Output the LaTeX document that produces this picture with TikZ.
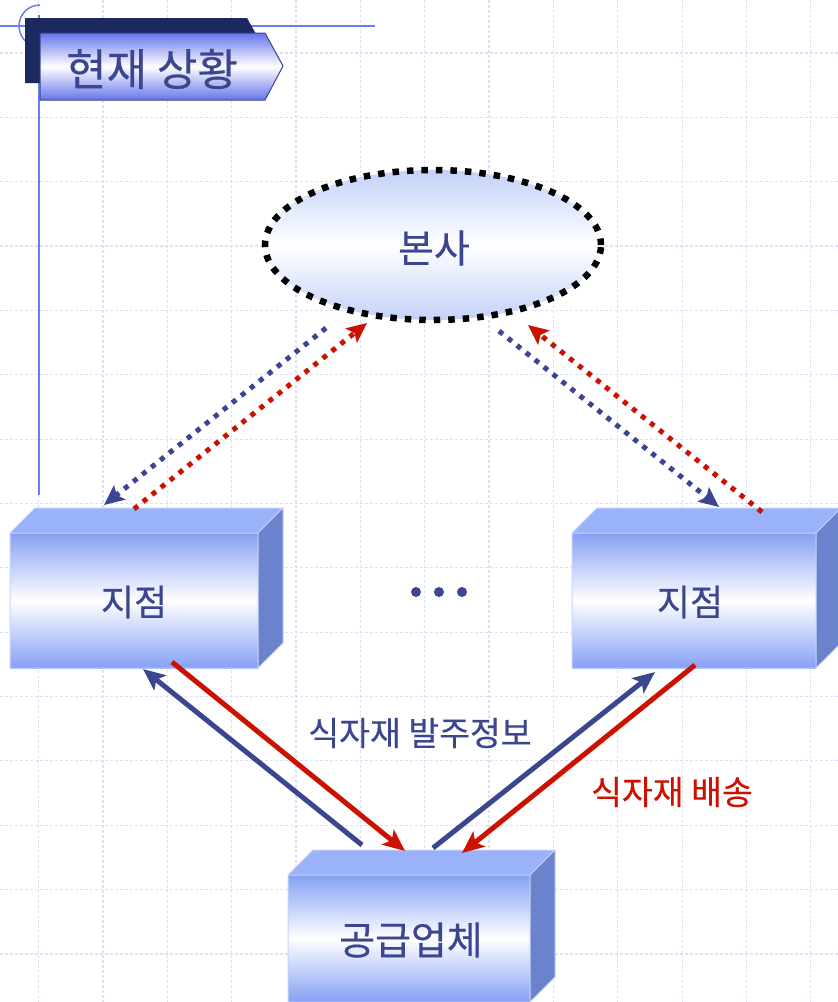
\documentclass[tikz,border=0pt]{standalone}
\usepackage{fontspec}
\setmainfont{Noto Sans CJK KR}[FakeBold=0.4]
\usetikzlibrary{arrows.meta,shapes.geometric}
\definecolor{navy}{HTML}{3C4690}
\definecolor{navydark}{HTML}{1C2860}
\definecolor{redc}{HTML}{CC1100}
\definecolor{accentc}{HTML}{6680F0}
\definecolor{gridc}{HTML}{DAE2FA}
\definecolor{boxtop}{HTML}{9AB2FA}
\definecolor{boxside}{HTML}{6B82CC}
\definecolor{boxfront}{HTML}{86A0F4}
\definecolor{boxedge}{HTML}{C5D3FB}
\definecolor{banner}{HTML}{6575EA}
\definecolor{ellc}{HTML}{C4D2F8}
\tikzset{
  gridline/.style={draw=gridc, line width=1.2pt, dash pattern=on 3pt off 2pt},
  accent/.style={draw=accentc, line width=1.5pt},
  lbl/.style={text=navy, font=\fontsize{36}{36}\selectfont, inner sep=0pt},
  small/.style={font=\fontsize{33.5}{34}\selectfont, inner sep=0pt},
  dotnode/.style={circle, fill=navy, inner sep=0pt, minimum size=10pt},
  dotline/.style={line width=5pt, dash pattern=on 5pt off 6.5pt, -{Stealth[length=20pt,width=18pt,inset=4pt]}},
  solidline/.style={line width=5pt, -{Stealth[length=22pt,width=19pt,inset=5pt]}},
}
\newcommand\cuboid[4]{%
  \fill[boxtop] (#1,#2) -- (#1+25,#2-25) -- (#3+25,#2-25) -- (#3,#2) -- cycle;
  \fill[boxside] (#3,#2) -- (#3+25,#2-25) -- (#3+25,#4-25) -- (#3,#4) -- cycle;
  \shade[top color=boxfront, bottom color=boxfront, middle color=white] (#1,#2) rectangle (#3,#4);
  \draw[boxedge, line width=1pt] (#1,#4) -- (#1,#2) -- (#1+25,#2-25) -- (#3+25,#2-25) -- (#3+25,#4-25) -- (#3,#4) -- cycle
    (#1,#2) -- (#3,#2) -- (#3+25,#2-25) (#3,#2) -- (#3,#4);
}
\begin{document}
\begin{tikzpicture}[x=1pt,y=-1pt]
\useasboundingbox (0,0) rectangle (838,1002);
\fill[white] (0,0) rectangle (838,1002);
% grid
\foreach \i in {0,...,12} \draw[gridline] ({38.6+64.35*\i},0) -- ({38.6+64.35*\i},1002);
\foreach \j in {0,...,14} \draw[gridline] (0,{53+64.35*\j}) -- (838,{53+64.35*\j});
% accent lines
\draw[accent] (39,15) -- (39,495);
\draw[accent] (0,26) -- (375,26);
\draw[accent] ([shift={(0pt,21pt)}]40,26) arc[start angle=90,end angle=230,radius=21pt];
% title banner
\fill[navydark] (25,18) -- (247,18) -- (256,34) -- (256,83) -- (25,83) -- cycle;
\shade[top color=banner, bottom color=banner, middle color=white] (40,33) -- (265,33) -- (283,66) -- (265,100) -- (40,100) -- cycle;
\draw[navy, line width=1pt] (40,33) -- (265,33) -- (283,66) -- (265,100) -- (40,100) -- cycle;
\node[lbl, font=\fontsize{44}{44}\selectfont] (title) at (152,69) {현재 상황};
% head office
\node[ellipse, minimum width=336pt, minimum height=150pt, inner sep=0pt,
  top color=ellc, bottom color=ellc, middle color=white,
  draw=black, line width=6.5pt, dash pattern=on 6.5pt off 8pt] (hq) at (433,245) {};
\node[lbl, font=\fontsize{39}{39}\selectfont] (hqt) at (434,248) {본사};
% boxes
\cuboid{10}{533}{258}{668}
\cuboid{572}{533}{816}{668}
\cuboid{288}{875}{530}{1002}
\node[lbl] (br1) at (134,602) {지점};
\node[lbl] (br2) at (690,602) {지점};
\node[lbl, font=\fontsize{39}{39}\selectfont] (sup) at (411,940) {공급업체};
% dots
\node[dotnode] (d1) at (416,592) {};
\node[dotnode] (d2) at (439,592) {};
\node[dotnode] (d3) at (462,592) {};
% endpoints
\coordinate (hqL1) at (326,328); \coordinate (brL1) at (104,505);
\coordinate (brL2) at (134,509); \coordinate (hqL2) at (367,323);
\coordinate (hqR1) at (499,331); \coordinate (brR1) at (719,507);
\coordinate (brR2) at (762,512); \coordinate (hqR2) at (528,325);
\coordinate (sL1) at (362,845); \coordinate (bL1) at (143,669);
\coordinate (bL2) at (172,662); \coordinate (sL2) at (405,851);
\coordinate (sR1) at (433,848); \coordinate (bR1) at (655,672);
\coordinate (bR2) at (695,665); \coordinate (sR2) at (462,853);
% dotted arrows
\draw[dotline, navy] (hqL1) -- (brL1);
\draw[dotline, redc] (brL2) -- (hqL2);
\draw[dotline, navy] (hqR1) -- (brR1);
\draw[dotline, redc] (brR2) -- (hqR2);
% solid arrows
\draw[solidline, navy] (sL1) -- (bL1);
\draw[solidline, redc] (bL2) -- (sL2);
\draw[solidline, navy] (sR1) -- (bR1);
\draw[solidline, redc] (bR2) -- (sR2);
% labels
\node[small, text=navy] (l1) at (420,733) {식자재 발주정보};
\node[small, text=redc] (l2) at (672,792) {식자재 배송};
\end{tikzpicture}
\end{document}
